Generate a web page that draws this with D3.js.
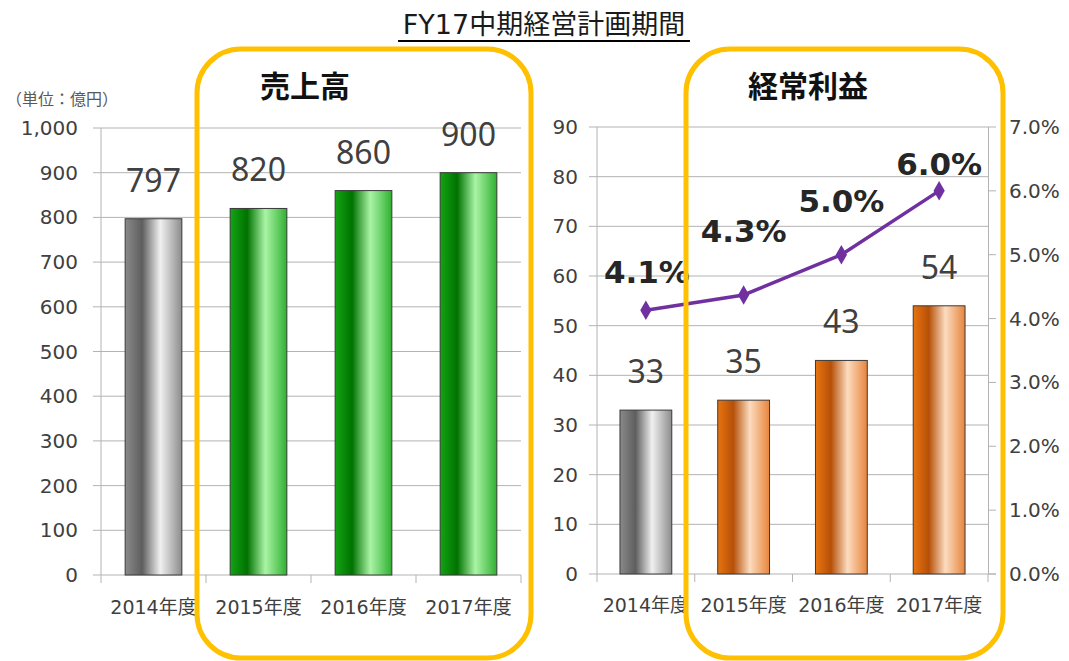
<!DOCTYPE html>
<html><head><meta charset="utf-8">
<script src="https://cdn.jsdelivr.net/npm/d3@7"></script>
<style>
body{margin:0;background:#fff;}
svg{display:block;}
text{font-family:"DejaVu Sans","Noto Sans CJK JP",sans-serif;}
</style></head>
<body><svg id="c" width="1069" height="661"></svg>
<script>
// ---- data ----
const categories = ["2014年度","2015年度","2016年度","2017年度"];
const sales = [797, 820, 860, 900];
const ordinaryProfit = [33, 35, 43, 54];
const profitMargin = [4.13, 4.37, 5.0, 6.0];
const marginLabels = ["4.1%","4.3%","5.0%","6.0%"];
const salesTicks = [0,100,200,300,400,500,600,700,800,900,1000];
const profitTicks = [0,10,20,30,40,50,60,70,80,90];
const marginTicks = [0,1,2,3,4,5,6,7];
const barKinds = ["gray","plan","plan","plan"];

const svg = d3.select("#c");
const defs = svg.append("defs");
function grad(id, stops){
  const g = defs.append("linearGradient").attr("id",id).attr("x1","0%").attr("x2","100%").attr("y1","0%").attr("y2","0%");
  stops.forEach(s=>g.append("stop").attr("offset",s[0]).attr("stop-color",s[1]));
}
grad("gGray",[["0%","#8a8a8a"],["30%","#5e5e5e"],["62%","#f0f0f0"],["100%","#8c8c8c"]]);
grad("gGreen",[["0%","#14a414"],["30%","#007200"],["62%","#aaf4a6"],["100%","#30b030"]]);
grad("gOrange",[["0%","#e8740f"],["30%","#b65008"],["62%","#fcdcc0"],["100%","#e8843c"]]);

const gridCol = "#b3b3b3", txtCol = "#404040";
const valFont = "Noto Sans";

// ---- title ----
svg.append("text").attr("x",544).attr("y",34).attr("text-anchor","middle")
  .style("font-size","27px").attr("fill","#1a1a1a").text("FY17中期経営計画期間");
svg.append("line").attr("x1",398).attr("x2",690).attr("y1",41).attr("y2",41).attr("stroke","#000").attr("stroke-width",2);

svg.append("text").attr("x",6).attr("y",105).style("font-family","Noto Sans CJK JP").style("font-size","16px")
  .attr("fill","#595959").text("（単位：億円）");

// ---- left chart ----
{
  const x = d3.scaleBand().domain(categories).range([101,521]).paddingInner(0.46).paddingOuter(0.23);
  const y = d3.scaleLinear().domain([0,1000]).range([575,128]);
  const g = svg.append("g");
  g.selectAll("line.grid").data(salesTicks.filter(d=>d>0)).join("line")
    .attr("x1",93).attr("x2",521).attr("y1",d=>y(d)).attr("y2",d=>y(d)).attr("stroke",gridCol);
  g.selectAll("text.tick").data(salesTicks).join("text")
    .attr("x",78).attr("y",d=>y(d)+7).attr("text-anchor","end").style("font-size","20px").attr("fill",txtCol)
    .text(d=>d3.format(",")(d));
  g.append("line").attr("x1",101).attr("x2",101).attr("y1",128).attr("y2",575).attr("stroke",gridCol);
  g.append("line").attr("x1",93).attr("x2",521).attr("y1",575).attr("y2",575).attr("stroke",gridCol);
  const bounds = categories.map(c=>x(c)-x.step()*x.paddingInner()/2).concat([521]);
  g.selectAll("line.xt").data(bounds).join("line")
    .attr("x1",d=>d).attr("x2",d=>d).attr("y1",575).attr("y2",583).attr("stroke",gridCol);
  g.selectAll("rect.bar").data(sales).join("rect")
    .attr("x",(d,i)=>x(categories[i])).attr("width",x.bandwidth())
    .attr("y",d=>y(d)).attr("height",d=>y(0)-y(d))
    .attr("fill",(d,i)=>barKinds[i]==="gray"?"url(#gGray)":"url(#gGreen)")
    .attr("stroke","#3a3a3a").attr("stroke-width",1);
  g.selectAll("text.val").data(sales).join("text")
    .attr("x",(d,i)=>x(categories[i])+x.bandwidth()/2).attr("y",d=>y(d)-27)
    .attr("text-anchor","middle").style("font-family",valFont).style("font-size","32px").attr("fill",txtCol).text(d=>d);
  g.selectAll("text.cat").data(categories).join("text")
    .attr("x",d=>x(d)+x.bandwidth()/2).attr("y",614).attr("text-anchor","middle")
    .style("font-size","19px").attr("fill",txtCol).text(d=>d);
}

// ---- right chart ----
{
  const x = d3.scaleBand().domain(categories).range([597,988]).paddingInner(0.47).paddingOuter(0.235);
  const y = d3.scaleLinear().domain([0,90]).range([574,127]);
  const y2 = d3.scaleLinear().domain([0,7]).range([574,127]);
  const g = svg.append("g");
  g.selectAll("line.grid").data(profitTicks.filter(d=>d>0)).join("line")
    .attr("x1",589).attr("x2",988).attr("y1",d=>y(d)).attr("y2",d=>y(d)).attr("stroke",gridCol);
  g.selectAll("text.tick").data(profitTicks).join("text")
    .attr("x",578).attr("y",d=>y(d)+7).attr("text-anchor","end").style("font-size","20px").attr("fill",txtCol).text(d=>d);
  g.selectAll("line.rt").data(marginTicks).join("line")
    .attr("x1",988).attr("x2",996).attr("y1",d=>y2(d)).attr("y2",d=>y2(d)).attr("stroke",gridCol);
  g.selectAll("text.rtick").data(marginTicks).join("text")
    .attr("x",1009).attr("y",d=>y2(d)+7).style("font-size","20px").attr("fill",txtCol).text(d=>d.toFixed(1)+"%");
  g.append("line").attr("x1",597).attr("x2",597).attr("y1",127).attr("y2",574).attr("stroke",gridCol);
  g.append("line").attr("x1",988.5).attr("x2",988.5).attr("y1",127).attr("y2",574).attr("stroke",gridCol);
  g.append("line").attr("x1",589).attr("x2",996).attr("y1",574).attr("y2",574).attr("stroke",gridCol);
  const bounds = categories.map(c=>x(c)-x.step()*x.paddingInner()/2).concat([988]);
  g.selectAll("line.xt").data(bounds).join("line")
    .attr("x1",d=>d).attr("x2",d=>d).attr("y1",574).attr("y2",582).attr("stroke",gridCol);
  g.selectAll("rect.bar").data(ordinaryProfit).join("rect")
    .attr("x",(d,i)=>x(categories[i])).attr("width",x.bandwidth())
    .attr("y",d=>y(d)).attr("height",d=>y(0)-y(d))
    .attr("fill",(d,i)=>barKinds[i]==="gray"?"url(#gGray)":"url(#gOrange)")
    .attr("stroke","#3a3a3a").attr("stroke-width",1);
  g.selectAll("text.val").data(ordinaryProfit).join("text")
    .attr("x",(d,i)=>x(categories[i])+x.bandwidth()/2).attr("y",d=>y(d)-27)
    .attr("text-anchor","middle").style("font-family",valFont).style("font-size","32px").attr("fill",txtCol).text(d=>d);
  g.selectAll("text.cat").data(categories).join("text")
    .attr("x",d=>x(d)+x.bandwidth()/2).attr("y",612).attr("text-anchor","middle")
    .style("font-size","19px").attr("fill",txtCol).text(d=>d);
  const cx = i=>x(categories[i])+x.bandwidth()/2;
  const line = d3.line().x((d,i)=>cx(i)).y(d=>y2(d));
  g.append("path").datum(profitMargin).attr("d",line).attr("fill","none").attr("stroke","#7030a0").attr("stroke-width",3.5);
  g.selectAll("path.mk").data(profitMargin).join("path")
    .attr("transform",(d,i)=>`translate(${cx(i)},${y2(d)})`)
    .attr("d",d3.symbol(d3.symbolDiamond,110)).attr("fill","#7030a0");
  const labelLift = [27, 53, 43, 16];
  g.selectAll("text.pct").data(marginLabels).join("text")
    .attr("x",(d,i)=>cx(i)+(i===0?1:0)).attr("y",(d,i)=>y2(profitMargin[i])-labelLift[i])
    .attr("text-anchor","middle").style("font-size","31px").style("font-weight","bold").attr("fill","#262626").text(d=>d);
}

// ---- highlight boxes ----
svg.append("rect").attr("x",197).attr("y",49).attr("width",334).attr("height",609).attr("rx",44)
  .attr("fill","none").attr("stroke","#ffc000").attr("stroke-width",5);
svg.append("rect").attr("x",686).attr("y",49).attr("width",317).attr("height",609).attr("rx",44)
  .attr("fill","none").attr("stroke","#ffc000").attr("stroke-width",5);
svg.append("text").attr("x",305).attr("y",97).attr("text-anchor","middle").style("font-family","Noto Sans CJK JP")
  .style("font-size","30px").style("font-weight","bold").attr("fill","#111").text("売上高");
svg.append("text").attr("x",808).attr("y",97).attr("text-anchor","middle").style("font-family","Noto Sans CJK JP")
  .style("font-size","30px").style("font-weight","bold").attr("fill","#111").text("経常利益");
</script></body></html>
